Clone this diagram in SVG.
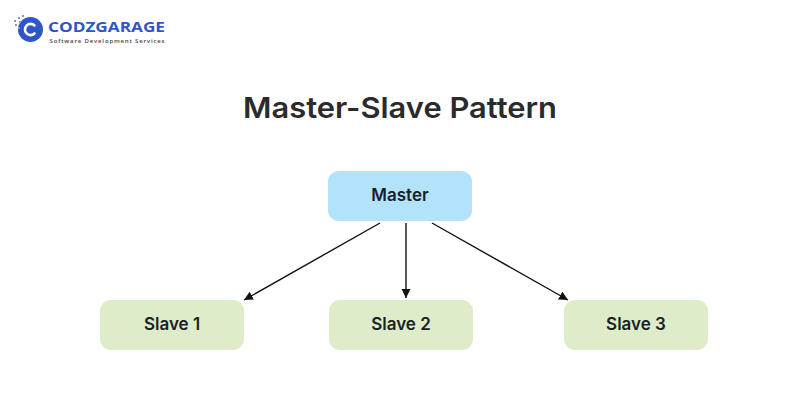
<svg xmlns="http://www.w3.org/2000/svg" width="800" height="400" viewBox="0 0 800 400">
<style>
.t{font-family:"Inter","Lato",sans-serif;fill:#1a1f26;font-weight:600;font-size:17px;text-anchor:middle}
.m{fill:#b3e3fa}.s{fill:#deecc9}
.c{stroke:#111;stroke-width:1.4;fill:none;marker-end:url(#a)}
</style>
<defs><marker id="a" markerUnits="userSpaceOnUse" markerWidth="10" markerHeight="10" refX="9" refY="4.5" orient="auto"><path d="M0 0L9 4.5L0 9Z" fill="#111"/></marker></defs>
<rect width="800" height="400" fill="#fff"/>
<g id="logo">
<circle cx="30.500" cy="29.500" r="12.500" fill="#2f55c8"/>
<path d="M34.500 25.500A5.600 5.600 0 1 0 34.500 33.500" fill="none" stroke="#fff" stroke-width="2.6" stroke-linecap="round"/>
<g fill="#7f96dc"><rect x="14" y="20" width="2" height="2"/><rect x="18" y="17" width="2" height="2"/><rect x="22" y="15" width="2" height="2"/><rect x="15" y="24" width="2" height="2"/><rect x="19" y="21" width="2" height="2"/><rect x="18" y="27" width="2" height="2"/></g>
<text x="48" y="32" font-family="'Open Sans',sans-serif" font-weight="700" font-size="15" textLength="117" lengthAdjust="spacingAndGlyphs" fill="#2f55c8">CODZGARAGE</text>
<text x="49.500" y="42.500" font-family="'Open Sans',sans-serif" font-weight="600" font-size="6" textLength="115" fill="#444">Software Development Services</text>
</g>
<text id="title" x="400" y="118" font-family="Inter,Lato,sans-serif" font-weight="600" font-size="29" text-anchor="middle" fill="#2b2b2b" textLength="314" lengthAdjust="spacingAndGlyphs">Master-Slave Pattern</text>
<g id="master"><rect class="m" x="328" y="171" width="144" height="50" rx="11"/><text class="t" x="400" y="201">Master</text></g>
<g id="slave1"><rect class="s" x="100" y="300" width="144" height="50" rx="11"/><text class="t" x="172" y="330">Slave 1</text></g>
<g id="slave2"><rect class="s" x="329" y="300" width="144" height="50" rx="11"/><text class="t" x="401" y="330">Slave 2</text></g>
<g id="slave3"><rect class="s" x="564" y="300" width="144" height="50" rx="11"/><text class="t" x="636" y="330">Slave 3</text></g>
<g id="connectors">
<line class="c" x1="380" y1="223" x2="244" y2="300"/>
<line class="c" x1="406" y1="223" x2="406" y2="298"/>
<line class="c" x1="432" y1="223" x2="568" y2="300"/>
</g>
</svg>
